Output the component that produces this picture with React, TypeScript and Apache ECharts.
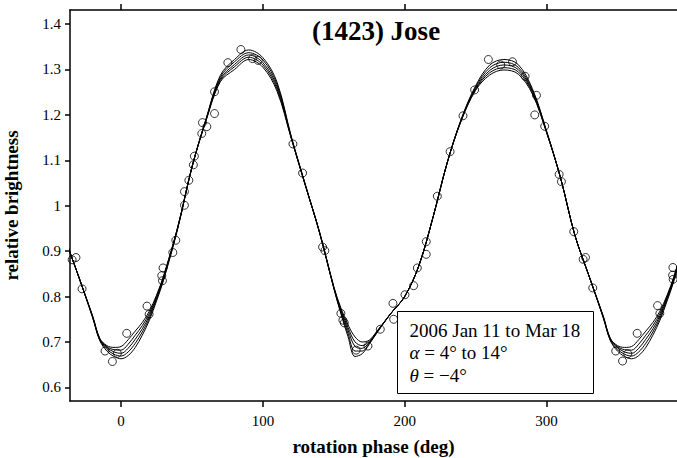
import React, { useEffect, useRef } from "react";
import * as echarts from "echarts";

// Rotation phases (deg) at which the model curves were read
const phases = [0, 5, 10, 15, 20, 25, 30, 40, 50, 60, 70, 80, 90, 100, 110, 120, 130, 140, 150, 155, 160, 165, 170, 175, 180, 190, 200, 210, 220, 230, 240, 250, 260, 270, 280, 290, 300, 310, 320, 330, 340, 345, 350, 355];

// Model light curves (relative brightness)
const curveA = [0.663, 0.670, 0.688, 0.715, 0.748, 0.790, 0.836, 0.950, 1.085, 1.192, 1.287, 1.322, 1.343, 1.326, 1.272, 1.153, 1.046, 0.940, 0.818, 0.762, 0.712, 0.668, 0.674, 0.695, 0.718, 0.762, 0.800, 0.868, 0.975, 1.095, 1.192, 1.264, 1.310, 1.322, 1.311, 1.258, 1.165, 1.060, 0.935, 0.845, 0.753, 0.703, 0.680, 0.668];
const curveB = [0.669, 0.678, 0.697, 0.722, 0.753, 0.794, 0.839, 0.951, 1.085, 1.191, 1.283, 1.317, 1.337, 1.321, 1.267, 1.151, 1.045, 0.940, 0.819, 0.765, 0.719, 0.680, 0.680, 0.697, 0.719, 0.762, 0.800, 0.868, 0.975, 1.095, 1.191, 1.261, 1.304, 1.316, 1.305, 1.255, 1.164, 1.060, 0.935, 0.845, 0.754, 0.704, 0.684, 0.673];
const curveC = [0.675, 0.686, 0.706, 0.729, 0.758, 0.797, 0.842, 0.952, 1.085, 1.190, 1.279, 1.311, 1.332, 1.315, 1.262, 1.150, 1.045, 0.941, 0.820, 0.768, 0.726, 0.690, 0.686, 0.699, 0.720, 0.762, 0.800, 0.868, 0.975, 1.095, 1.190, 1.258, 1.298, 1.310, 1.300, 1.252, 1.163, 1.060, 0.935, 0.845, 0.755, 0.705, 0.688, 0.678];
const curveD = [0.682, 0.695, 0.715, 0.736, 0.763, 0.800, 0.844, 0.953, 1.085, 1.189, 1.276, 1.306, 1.327, 1.310, 1.257, 1.149, 1.044, 0.941, 0.821, 0.771, 0.732, 0.700, 0.692, 0.701, 0.721, 0.762, 0.800, 0.868, 0.975, 1.095, 1.189, 1.256, 1.293, 1.304, 1.295, 1.249, 1.162, 1.060, 0.935, 0.845, 0.756, 0.707, 0.690, 0.683];
const curveE = [0.690, 0.705, 0.724, 0.743, 0.768, 0.803, 0.846, 0.954, 1.085, 1.188, 1.273, 1.300, 1.322, 1.305, 1.252, 1.148, 1.044, 0.942, 0.822, 0.775, 0.738, 0.711, 0.700, 0.704, 0.722, 0.762, 0.800, 0.868, 0.975, 1.095, 1.188, 1.254, 1.288, 1.299, 1.290, 1.246, 1.161, 1.060, 0.935, 0.845, 0.757, 0.708, 0.692, 0.688];

// Observations (phase deg, relative brightness)
const obsPhase = [-34.5, -31.8, -27.5, -11.3, -6.1, -2.6, 4.0, 18.3, 19.8, 28.7, 29.2, 29.6, 36.5, 38.6, 44.7, 44.7, 47.8, 51.0, 51.7, 56.9, 57.4, 60.5, 65.9, 65.9, 75.3, 84.5, 92.7, 96.7, 121.2, 128.0, 142.1, 143.7, 155.0, 156.4, 157.4, 165.8, 174.1, 182.8, 191.7, 192.2, 200.2, 206.3, 208.9, 215.2, 215.2, 223.0, 232.0, 241.1, 249.3, 259.0, 267.7, 276.0, 284.9, 292.9, 291.7, 298.7, 308.9, 310.5, 319.2, 327.5, 325.8, 332.6, 348.8, 353.6, 357.3, 363.9, 378.3, 379.9, 389.1, 388.9, 389.3];
const obsBrightness = [0.881, 0.886, 0.817, 0.680, 0.657, 0.675, 0.719, 0.779, 0.761, 0.846, 0.835, 0.863, 0.897, 0.924, 1.001, 1.031, 1.056, 1.090, 1.109, 1.159, 1.183, 1.174, 1.203, 1.251, 1.315, 1.344, 1.324, 1.320, 1.136, 1.072, 0.909, 0.901, 0.763, 0.748, 0.742, 0.682, 0.691, 0.728, 0.785, 0.750, 0.804, 0.824, 0.863, 0.893, 0.921, 1.021, 1.119, 1.198, 1.255, 1.322, 1.310, 1.317, 1.285, 1.243, 1.200, 1.175, 1.069, 1.053, 0.943, 0.886, 0.882, 0.819, 0.680, 0.658, 0.674, 0.719, 0.780, 0.763, 0.864, 0.847, 0.838];

const xTicks = [0, 100, 200, 300];
const yTicks = [0.6, 0.7, 0.8, 0.9, 1, 1.1, 1.2, 1.3, 1.4];

const SERIF = '"Liberation Serif", "Times New Roman", serif';

function wrapCurve(vals: number[]) {
  const pts: number[][] = [];
  for (const off of [-360, 0, 360]) {
    for (let i = 0; i < phases.length; i++) {
      const x = phases[i] + off;
      if (x >= -60 && x <= 420) pts.push([x, vals[i]]);
    }
  }
  pts.sort((a, b) => a[0] - b[0]);
  return pts;
}

export default function App() {
  const ref = useRef<HTMLDivElement>(null);
  useEffect(() => {
    document.body.style.margin = "0";
    const chart = echarts.init(ref.current!, null, { renderer: "svg" });
    const curves = [curveA, curveB, curveC, curveD, curveE];
    const axisLineStyle = { color: "#000", width: 1.5 };
    const option: any = {
      animation: false,
      backgroundColor: "#fff",
      grid: { left: 70, right: 0, top: 10, bottom: 57, containLabel: false, outerBoundsMode: "none" },
      xAxis: [
        {
          type: "value",
          position: "bottom",
          min: -36,
          max: 392,
          axisLine: { show: true, onZero: false, lineStyle: axisLineStyle },
          axisTick: { show: true, inside: false, length: 6, customValues: xTicks, lineStyle: axisLineStyle },
          axisLabel: { customValues: xTicks, margin: 12, color: "#000", fontFamily: SERIF, fontSize: 15 },
          splitLine: { show: false },
          name: "rotation phase (deg)",
          nameLocation: "middle",
          nameGap: 36,
          nameTextStyle: { color: "#000", fontFamily: SERIF, fontSize: 19, fontWeight: "bold" },
        },
        {
          type: "value",
          position: "top",
          min: -36,
          max: 392,
          axisLine: { show: true, onZero: false, lineStyle: axisLineStyle },
          axisTick: { show: true, inside: false, length: 6, customValues: xTicks, lineStyle: axisLineStyle },
          axisLabel: { show: false },
          splitLine: { show: false },
        },
      ],
      yAxis: {
        type: "value",
        min: 0.57,
        max: 1.431,
        axisLine: { show: true, onZero: false, lineStyle: axisLineStyle },
        axisTick: { show: true, inside: false, length: 5, customValues: yTicks, lineStyle: axisLineStyle },
        axisLabel: {
          customValues: yTicks,
          margin: 9,
          color: "#000",
          fontFamily: SERIF,
          fontSize: 15,
          formatter: (v: number) => String(Math.round(v * 10) / 10),
        },
        splitLine: { show: false },
        name: "relative brightness",
        nameLocation: "middle",
        nameGap: 49,
        nameTextStyle: { color: "#000", fontFamily: SERIF, fontSize: 19, fontWeight: "bold" },
      },
      series: [
        ...curves.map((c, i) => ({
          type: "line",
          name: "model " + (i + 1),
          data: wrapCurve(c),
          showSymbol: false,
          smooth: 0.35,
          lineStyle: { color: "#000", width: 1 },
          z: 2,
        })),
        {
          type: "scatter",
          name: "observed",
          data: obsPhase.map((p, i) => [p, obsBrightness[i]]),
          symbol: "circle",
          symbolSize: 8,
          itemStyle: { color: "rgba(0,0,0,0)", borderColor: "#000", borderWidth: 1 },
          z: 3,
        },
      ],
      graphic: [
        {
          type: "text",
          x: 376,
          y: 31,
          z: 100,
          style: {
            text: "(1423) Jose",
            fontFamily: SERIF,
            fontSize: 27,
            fontWeight: "bold",
            fill: "#000",
            textAlign: "center",
            textVerticalAlign: "middle",
            align: "center",
            verticalAlign: "middle",
          },
        },
        {
          type: "rect",
          z: 100,
          shape: { x: 397.5, y: 311.5, width: 196, height: 82 },
          style: { fill: "#fff", stroke: "#000", lineWidth: 1 },
        },
        {
          type: "text",
          x: 409.5,
          y: 330,
          z: 101,
          style: {
            text: "2006 Jan 11 to Mar 18",
            fontFamily: SERIF,
            fontSize: 19,
            fill: "#000",
            textVerticalAlign: "middle",
            verticalAlign: "middle",
          },
        },
        {
          type: "text",
          x: 409.5,
          y: 352,
          z: 101,
          style: {
            text: "{i|α} = 4° to 14°",
            fontFamily: SERIF,
            fontSize: 19,
            fill: "#000",
            textVerticalAlign: "middle",
            verticalAlign: "middle",
            rich: { i: { fontStyle: "italic", fontFamily: SERIF, fontSize: 19, fill: "#000" } },
          },
        },
        {
          type: "text",
          x: 409.5,
          y: 375,
          z: 101,
          style: {
            text: "{i|θ} = −4°",
            fontFamily: SERIF,
            fontSize: 19,
            fill: "#000",
            textVerticalAlign: "middle",
            verticalAlign: "middle",
            rich: { i: { fontStyle: "italic", fontFamily: SERIF, fontSize: 19, fill: "#000" } },
          },
        },
      ],
    };
    chart.setOption(option);
    return () => chart.dispose();
  }, []);
  return (
    <div
      ref={ref}
      style={{ width: 677, height: 458, position: "fixed", left: 0, top: 0, background: "#fff" }}
    />
  );
}
